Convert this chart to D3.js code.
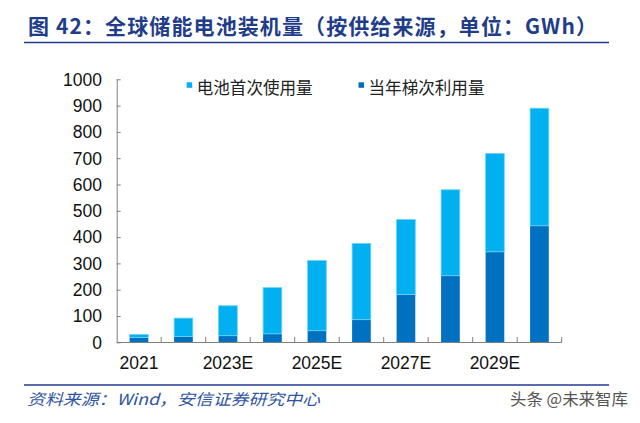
<!DOCTYPE html>
<html><head><meta charset="utf-8">
<script src="https://cdn.jsdelivr.net/npm/d3@7"></script>
<style>body{margin:0;background:#fff}svg{display:block}</style>
</head><body>
<svg id="c" width="640" height="423"></svg>
<script>
const categories = ["2021","2022E","2023E","2024E","2025E","2026E","2027E","2028E","2029E","2030E"];
const secondLife = [18,22,25,32,44,86,182,253,344,443];
const firstUse = [12,70,114,176,267,290,285,327,374,447];
const yTicks = [0,100,200,300,400,500,600,700,800,900,1000];
const seriesNames = ["电池首次使用量","当年梯次利用量"];
const shownLabels = ["2021","2023E","2025E","2027E","2029E"];

const colLight = "#00b0f0", colDark = "#0070c0";
const svg = d3.select("#c");
const x = d3.scaleBand().domain(categories).range([116.7, 561.7]).paddingInner(0.58).paddingOuter(0.29);
const y = d3.scaleLinear().domain([0,1000]).range([342.3, 79.3]);
const font = "'Liberation Sans', Arial, sans-serif";
const cjk = "'Noto Sans CJK SC', sans-serif";

// title
svg.append("text").attr("x",28).attr("y",34).attr("font-family",cjk).attr("font-weight","bold")
  .attr("font-size",21).attr("fill","#1f3d8a").attr("textLength",569).attr("lengthAdjust","spacing")
  .text("图 42：全球储能电池装机量（按供给来源，单位：GWh）");
svg.append("line").attr("x1",24).attr("x2",609).attr("y1",42.5).attr("y2",42.5).attr("stroke","#1f3a93").attr("stroke-width",1.6);
svg.append("line").attr("x1",24).attr("x2",609).attr("y1",385).attr("y2",385).attr("stroke","#1f3a93").attr("stroke-width",1.6);

// bars
const data = categories.map((c,i)=>({cat:c, second:secondLife[i], first:firstUse[i]}));
const stack = d3.stack().keys(["second","first"])(data);
const colors = {second: colDark, first: colLight};
svg.append("g").selectAll("g").data(stack).join("g")
  .attr("fill", d=>colors[d.key])
  .attr("stroke", d=>d.key==="first" ? "#70d2f6" : "none").attr("stroke-width",0.8)
  .selectAll("rect").data(d=>d).join("rect")
  .attr("x", d=>x(d.data.cat)).attr("width", x.bandwidth())
  .attr("y", d=>y(d[1])).attr("height", d=>y(d[0])-y(d[1]));

// axes
const axisColor = "#808080";
const yAxis = svg.append("g").attr("transform","translate(116.7,0)")
  .call(d3.axisRight(y).tickValues(yTicks).tickSize(4).tickFormat(""));
yAxis.selectAll("path,line").attr("stroke",axisColor);
yAxis.select(".domain").attr("d","M0.5,"+y(1000)+"V"+y(0));
svg.append("g").selectAll("text").data(yTicks).join("text")
  .attr("x",102).attr("y",d=>y(d)).attr("dy","0.36em").attr("text-anchor","end")
  .attr("font-family",font).attr("font-size",17.5).attr("fill","#111").text(d=>d);

svg.append("line").attr("x1",116.7).attr("x2",561.7).attr("y1",342.5).attr("y2",342.5).attr("stroke",axisColor);
const step = x.step();
svg.append("g").selectAll("line").data(categories).join("line")
  .attr("x1",(d)=>x(d)+x.bandwidth()/2+step/2).attr("x2",(d)=>x(d)+x.bandwidth()/2+step/2)
  .attr("y1",342.5).attr("y2",337).attr("stroke",axisColor);
svg.append("g").selectAll("text").data(shownLabels).join("text")
  .attr("x",d=>x(d)+x.bandwidth()/2).attr("y",369).attr("text-anchor","middle")
  .attr("font-family",font).attr("font-size",17.5).attr("fill","#111").text(d=>d);

// legend
const legX = [186.7, 358.5];
seriesNames.forEach((n,i)=>{
  svg.append("rect").attr("x",legX[i]).attr("y",82.3).attr("width",5.5).attr("height",5.5).attr("fill",i===0?colLight:colDark);
  svg.append("text").attr("x",legX[i]+10).attr("y",94).attr("font-family",cjk).attr("font-size",16.5)
    .attr("fill","#222").attr("textLength",116).attr("lengthAdjust","spacingAndGlyphs").text(n);
});

// footer
svg.append("text").attr("x",27).attr("y",405).attr("font-family",cjk).attr("font-style","italic")
  .attr("font-size",15.5).attr("fill","#2f55a0").attr("textLength",293).attr("lengthAdjust","spacingAndGlyphs")
  .text("资料来源：Wind，安信证券研究中心");
svg.append("text").attr("x",510).attr("y",405).attr("font-family",cjk)
  .attr("font-size",16).attr("fill","#555").attr("textLength",118).attr("lengthAdjust","spacingAndGlyphs")
  .text("头条 @未来智库");
</script>
</body></html>
